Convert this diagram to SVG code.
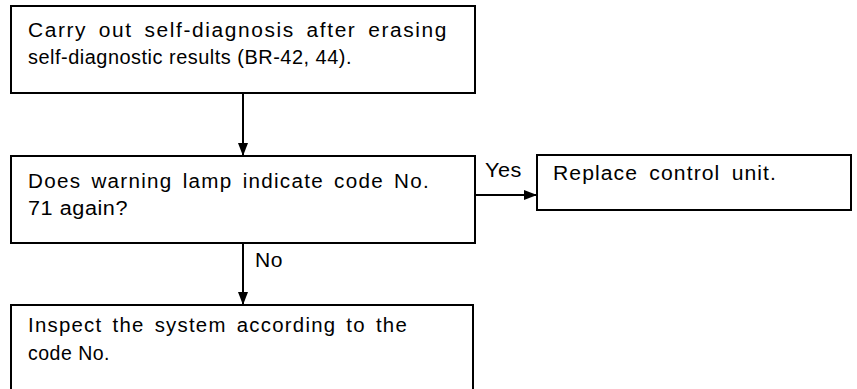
<svg xmlns="http://www.w3.org/2000/svg" width="857" height="389" viewBox="0 0 857 389">
<style>
.box{fill:#fff;stroke:#000;stroke-width:2}
.t{font-family:"Liberation Sans",Arial,sans-serif;font-size:19.5px;letter-spacing:0.5px;fill:#000}
.j{letter-spacing:1.2px;word-spacing:3px}
.c{stroke:#000;stroke-width:2;fill:none}
</style>
<defs>
<marker id="ah" markerUnits="userSpaceOnUse" markerWidth="14" markerHeight="14" viewBox="0 0 14 14" refX="13" refY="7" orient="auto">
<path d="M0,2 L13,7 L0,12 Z" fill="#000"/>
</marker>
</defs>
<rect width="857" height="389" fill="#fff"/>
<g id="connectors">
<line class="c" x1="243" y1="93" x2="243" y2="156" marker-end="url(#ah)"/>
<line class="c" x1="475" y1="195" x2="537" y2="195" marker-end="url(#ah)"/>
<line class="c" x1="243" y1="243" x2="243" y2="305" marker-end="url(#ah)"/>
<text class="t" x="485" y="177" textLength="37" lengthAdjust="spacingAndGlyphs">Yes</text>
<text class="t" x="255" y="267" textLength="28" lengthAdjust="spacingAndGlyphs">No</text>
</g>
<g id="step1">
<rect class="box" x="11" y="6" width="464" height="87"/>
<text class="t" x="28" y="37" style="letter-spacing:1.5px;word-spacing:4px" textLength="420" lengthAdjust="spacingAndGlyphs">Carry out self-diagnosis after erasing</text>
<text class="t" x="28" y="64" textLength="324" lengthAdjust="spacingAndGlyphs">self-diagnostic results (BR-42, 44).</text>
</g>
<g id="decision">
<rect class="box" x="11" y="156" width="464" height="87"/>
<text class="t j" x="28" y="188" textLength="402" lengthAdjust="spacingAndGlyphs">Does warning lamp indicate code No.</text>
<text class="t" x="28" y="215" textLength="100" lengthAdjust="spacingAndGlyphs">71 again?</text>
</g>
<g id="replace">
<rect class="box" x="537" y="155" width="314" height="55"/>
<text class="t" x="553" y="180" style="letter-spacing:1px;word-spacing:4px" textLength="224" lengthAdjust="spacingAndGlyphs">Replace control unit.</text>
</g>
<g id="inspect">
<rect class="box" x="11" y="305" width="462" height="100"/>
<text class="t j" x="28" y="332" textLength="380" lengthAdjust="spacingAndGlyphs">Inspect the system according to the</text>
<text class="t" x="28" y="360" textLength="82" lengthAdjust="spacingAndGlyphs">code No.</text>
</g>
</svg>
